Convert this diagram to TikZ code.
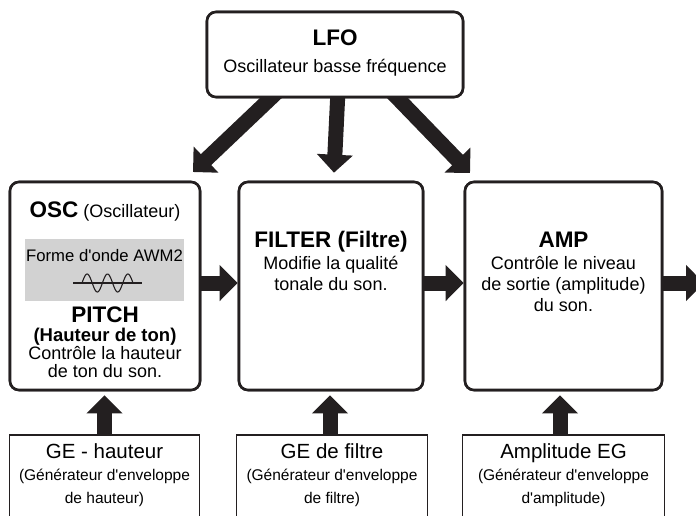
\documentclass[tikz,border=0pt]{standalone}
\usepackage{fontspec}
\setmainfont{Liberation Sans}[Ligatures=TeXOff]
\usetikzlibrary{arrows.meta}
\definecolor{ink}{HTML}{231F20}
\definecolor{wavebg}{HTML}{D2D2D2}

\begin{document}
\begin{tikzpicture}[x=1pt, y=-1pt,
  modbox/.style={draw=ink, line width=2.6pt, rounded corners=9pt, fill=white,
                 minimum height=208pt},
  egbox/.style={minimum height=100pt, anchor=north},
  egline/.style={ink, line width=1.1pt},
  flow/.style={ink, line width=15pt, -{Triangle[width=35pt, length=18pt]}},
  head/.style={anchor=base, font=\fontsize{22.5}{26}\selectfont\bfseries},
  body/.style={anchor=base, font=\fontsize{18}{21}\selectfont},
  egname/.style={anchor=base, font=\fontsize{20.5}{24}\selectfont},
  egnote/.style={anchor=base, font=\fontsize{15.5}{18}\selectfont},
]
\useasboundingbox (0,0) rectangle (696,515);
\clip (0,0) rectangle (696,515);

\coordinate (osctip) at (193,172);
\coordinate (amptip) at (470,173);
\coordinate (out) at (704,283);

\node[modbox, minimum width=256pt, minimum height=85pt] (lfo) at (335,54.5) {};
\node[modbox, minimum width=190pt] (osc) at (105,286) {};
\node[modbox, minimum width=184pt] (filter) at (331,286) {};
\node[modbox, minimum width=197pt] (amp) at (563.5,286) {};

\node[egbox, minimum width=189pt] (pitcheg) at (104.5,435) {};
\node[egbox, minimum width=190pt] (filtereg) at (332,435) {};
\node[egbox, minimum width=201pt] (ampeg) at (563.5,435) {};

\draw[flow] ([xshift=-56pt, yshift=8pt]lfo.south) -- (osctip);
\draw[flow] ([xshift=3pt, yshift=8pt]lfo.south) -- ([xshift=3pt, yshift=8pt]filter.north);
\draw[flow] ([xshift=55pt, yshift=8pt]lfo.south) -- (amptip);

\draw[flow] ([yshift=3pt]osc.east) -- ([yshift=3pt]filter.west);
\draw[flow] ([yshift=3pt]filter.east) -- ([yshift=3pt]amp.west);
\draw[flow] ([yshift=3pt]amp.east) -- (out);

\draw[flow] (pitcheg.north) -- ([yshift=-4pt]pitcheg.north |- osc.south);
\draw[flow] ([xshift=-2pt]filtereg.north) -- ([xshift=-2pt, yshift=-4pt]filtereg.north |- filter.south);
\draw[flow] ([xshift=-3.5pt]ampeg.north) -- ([xshift=-3.5pt, yshift=-4pt]ampeg.north |- amp.south);

\node[modbox, minimum width=256pt, minimum height=85pt] at (lfo) {};
\node[modbox, minimum width=190pt] at (osc) {};
\node[modbox, minimum width=184pt] at (filter) {};
\node[modbox, minimum width=197pt] at (amp) {};
\draw[egline] (pitcheg.south west) |- (pitcheg.north east) -- (pitcheg.south east);
\draw[egline] (filtereg.south west) |- (filtereg.north east) -- (filtereg.south east);
\draw[egline] (ampeg.south west) |- (ampeg.north east) -- (ampeg.south east);

\node[head] (lfoname) at (335,45) {LFO};
\node[body] (lfotext) at (335,72) {Oscillateur basse fréquence};

\node[anchor=base, font=\fontsize{18}{21}\selectfont] (oscname) at (105,217)
  {{\fontsize{22.5}{26}\selectfont\bfseries OSC} (Oscillateur)};
\fill[wavebg] (25,239) rectangle (184,301);
\node[anchor=base, font=\fontsize{16.7}{20}\selectfont] (awm) at (104.5,261) {Forme d'onde AWM2};
\draw[ink, line width=1.1pt] (73,283) -- (142,283);
\draw[ink, line width=1.1pt] plot[domain=0:5, samples=80, smooth] ({82+10.2*\x}, {283-9*sin(180*\x)});
\node[head] (pitch) at (105,322) {PITCH};
\node[anchor=base, font=\fontsize{18.5}{21}\selectfont\bfseries] (pitchsub) at (105,341) {(Hauteur de ton)};
\node[body] (pitch1) at (105,359) {Contrôle la hauteur};
\node[body] (pitch2) at (105,377) {de ton du son.};

\node[head] (filtername) at (331,247) {FILTER (Filtre)};
\node[body] (filter1) at (331,269) {Modifie la qualité};
\node[body] (filter2) at (331,290) {tonale du son.};

\node[head] (ampname) at (563.5,247) {AMP};
\node[body] (amp1) at (563.5,269) {Contrôle le niveau};
\node[body] (amp2) at (563.5,290) {de sortie (amplitude)};
\node[body] (amp3) at (563.5,311) {du son.};

\node[egname] (pitchegname) at (104.5,458) {GE - hauteur};
\node[egnote] (pitchnote1) at (104.5,480) {(Générateur d'enveloppe};
\node[egnote] (pitchnote2) at (104.5,503) {de hauteur)};

\node[egname] (filteregname) at (332,458) {GE de filtre};
\node[egnote] (filternote1) at (332,480) {(Générateur d'enveloppe};
\node[egnote] (filternote2) at (332,503) {de filtre)};

\node[egname] (ampegname) at (563.5,458) {Amplitude EG};
\node[egnote] (ampnote1) at (563.5,480) {(Générateur d'enveloppe};
\node[egnote] (ampnote2) at (563.5,503) {d'amplitude)};

\end{tikzpicture}
\end{document}
